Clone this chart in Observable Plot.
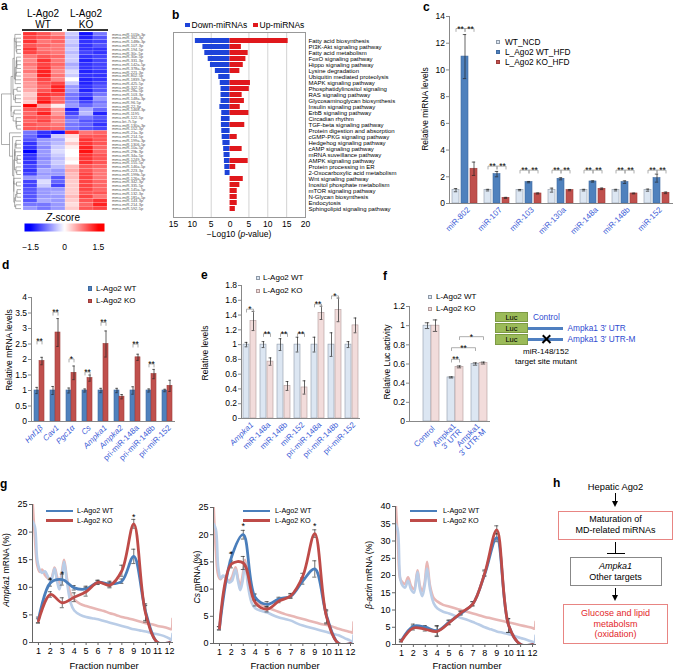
<!DOCTYPE html>
<html>
<head>
<meta charset="utf-8">
<script src="https://cdn.jsdelivr.net/npm/d3@7"></script>
<script src="https://cdn.jsdelivr.net/npm/@observablehq/plot@0.6"></script>
<style>
html,body{margin:0;padding:0;background:#fff;}
#fig{position:relative;width:673px;height:670px;overflow:hidden;background:#fff;font-family:"Liberation Sans",Arial,Helvetica,sans-serif;color:#000;}
#fig svg{display:block;}
</style>
</head>
<body>
<div id="fig"></div>
<script>
// ================= DATA =================
// a: heatmap
const heatCols = ["WT1","WT2","WT3","KO1","KO2","KO3"];
const heatRows = ["mmu-miR-101b-3p","mmu-miR-362-3p","mmu-miR-148b-3p","mmu-miR-107-3p","mmu-miR-194-5p","mmu-miR-30c-5p","mmu-miR-30e-5p","mmu-miR-331-3p","mmu-miR-142a-5p","mmu-miR-378a-3p","mmu-miR-221-3p","mmu-miR-802-5p","mmu-miR-1839-5p","mmu-miR-425-5p","mmu-miR-322-5p","mmu-miR-28a-5p","mmu-miR-103-3p","mmu-miR-148a-3p","mmu-miR-96-5p","mmu-miR-22-3p","mmu-miR-1468-3p","mmu-miR-1195","mmu-miR-122-5p","mmu-let-7i-5p","mmu-miR-130a-3p","mmu-miR-152-3p",
"mmu-miR-21a-3p","mmu-miR-214-5p","mmu-miR-199a-3p","mmu-miR-1306-5p","mmu-miR-10a-5p","mmu-miR-29b-3p","mmu-miR-34a-5p","mmu-miR-1249-3p","mmu-miR-155-5p","mmu-miR-146a-5p","mmu-miR-223-3p","mmu-miR-199b-5p","mmu-miR-126a-3p","mmu-miR-342-3p","mmu-miR-335-5p","mmu-miR-145a-5p","mmu-miR-132-3p","mmu-miR-181a-5p","mmu-miR-143-3p","mmu-miR-214-3p","mmu-miR-592-5p"];
const zTop = [
[1.2,1.0,0.7,-0.3,-1.4,-0.8],[1.1,1.0,0.9,-0.4,-1.3,-1.0],[1.2,0.8,0.9,-0.3,-1.2,-1.1],[1.0,0.9,0.8,-0.4,-1.2,-1.0],
[1.2,0.8,0.8,-0.3,-1.2,-1.2],[1.1,0.9,0.8,-0.4,-1.1,-1.2],[0.8,1.0,0.9,-0.3,-1.2,-1.1],[0.7,1.2,0.8,-0.3,-1.3,-1.1],
[0.8,1.1,0.9,-0.5,-1.2,-1.1],[0.7,1.2,0.8,-0.4,-1.2,-1.1],[0.8,1.3,0.7,-0.2,-1.3,-1.2],[0.6,1.3,0.8,-0.3,-1.2,-1.2],
[0.7,1.1,0.7,0.0,-1.3,-1.2],[0.6,1.0,1.1,-0.3,-1.3,-1.1],[0.6,0.9,1.3,-0.6,-1.2,-1.0],[0.5,1.0,1.3,-0.6,-1.3,-1.0],
[0.3,1.2,1.1,-0.8,-1.1,-0.8],[0.4,1.2,0.9,-0.8,-1.3,-0.6],[0.3,1.4,0.9,-0.7,-1.1,-0.8],[1.5,0.6,0.1,-0.6,-0.9,-0.7],
[1.0,1.1,0.6,-1.3,-0.5,-0.9],[0.9,1.3,0.6,-1.1,-0.4,-1.3],[1.0,1.0,0.8,-0.9,-0.8,-1.0],[0.9,1.1,0.7,-0.7,-1.0,-1.1],
[1.0,0.9,0.8,-0.8,-0.9,-1.2],[1.0,1.0,0.9,-0.8,-1.0,-1.1]];
const zBottom = [
[-0.8,-1.2,-1.4,1.2,0.8,0.9],[-0.9,-1.3,-0.3,0.2,1.0,1.0],[-1.0,-0.6,-0.5,0.1,1.2,1.0],[-1.2,-0.6,-0.4,0.3,1.2,1.0],
[-1.2,-0.7,-0.3,0.1,1.3,0.9],[-1.5,-0.6,-0.2,0.0,1.4,0.9],[-1.2,-0.6,-0.3,0.0,1.2,1.0],[-1.2,-0.7,-0.4,0.1,1.2,1.0],
[-1.2,-0.6,-0.3,0.0,1.2,1.0],[-1.1,-0.7,-0.4,0.4,1.0,0.9],[-1.2,-0.5,-0.6,0.5,1.0,0.8],[-1.1,-0.6,-0.6,0.4,1.1,0.8],
[-0.6,-0.5,-1.0,0.4,1.1,0.8],[-1.1,-0.2,-0.9,0.3,1.1,0.9],[-1.1,-0.3,-1.1,0.3,1.1,0.9],[-1.0,-0.6,-0.6,0.3,1.1,0.9],
[-1.0,-0.6,-0.5,0.3,1.0,1.0],[-1.0,-0.6,-0.6,0.4,1.1,0.8],[-1.0,-0.5,-0.6,0.3,1.0,1.2],[-0.8,-0.8,-0.6,0.2,0.9,1.3],
[-0.6,-0.8,-0.6,0.3,1.0,1.1]];

// b: pathways
const pathways = ["Fatty acid biosynthesis","PI3K-Akt signaling pathway","Fatty acid metabolism","FoxO signaling pathway","Hippo signaling pathway","Lysine degradation","Ubiquitin mediated proteolysis","MAPK signaling pathway","Phosphatidylinositol signaling","RAS signaling pathway","Glycosaminoglycan biosynthesis","Insulin signaling pathway","ErbB signaling pathway","Circadian rhythm","TGF-beta signaling pathway","Protein digestion and absorption","cGMP-PKG signaling pathway","Hedgehog signaling pathway","cAMP signaling pathway","mRNA suveillance pathway","AMPK signaling pathway","Protein processing in ER","2-Oxocarboxylic acid metabolism","Wnt signaling pathway","Inositol phosphate metabolism","mTOR signaling pathway","N-Glycan biosynthesis","Endocytosis","Sphingolipid signaling pathway"];
const downP = [9.2,7.2,6.7,5.8,5.2,3.9,3.0,2.6,2.4,2.4,2.4,2.7,2.2,2.3,2.3,2.2,2.1,1.9,1.7,1.6,1.5,1.4,1.3,0,0,0,0,0,0];
const upP   = [15.4,3.0,4.8,4.2,3.5,2.6,0,5.4,5.1,3.2,3.8,2.7,5.0,0,3.9,0,1.9,0,3.2,0,4.8,1.5,0,3.5,2.6,1.9,1.9,1.9,1.4];

// c
const cCats = ["miR-802","miR-107","miR-103","miR-130a","miR-148a","miR-148b","miR-152"];
const cSeries = ["WT_NCD","L_Ago2 WT_HFD","L_Ago2 KO_HFD"];
const cNCD = [1.0,1.0,1.0,1.0,1.0,1.0,1.0];
const cNCDerr = [0.12,0.06,0.05,0.15,0.06,0.06,0.08];
const cWT = [11.0,2.2,1.6,1.85,1.65,1.6,1.9];
const cWTerr = [1.65,0.2,0.05,0.08,0.05,0.1,0.3];
const cKO = [2.6,0.42,0.75,1.0,1.1,0.75,0.8];
const cKOerr = [0.5,0.04,0.04,0.05,0.06,0.03,0.06];
const cBrH = [13.1,2.8,2.5,2.5,2.5,2.5,2.5];

// d
const dCats = ["Hnf1β","Cav1","Pgc1α","Cs","Ampka1","Ampka2","pri-miR-148a","pri-miR-148b","pri-miR-152"];
const dWT = [1,1,1,1,1,1,1,1,1];
const dWTerr = [0.1,0.13,0.08,0.05,0.07,0.07,0.12,0.05,0.04];
const dKO = [1.95,2.87,1.57,1.4,2.5,0.8,2.07,1.53,1.15];
const dKOerr = [0.12,0.45,0.22,0.1,0.42,0.07,0.1,0.15,0.18];
const dBrH = [2.6,3.53,2.02,1.6,3.2,null,2.5,1.86,null];
const dBrLabel = ["**","**","*","**","**","","**","**",""];

// e
const eCats = ["Ampka1","miR-148a","miR-148b","miR-152","pri-miR-148a","pri-miR-148b","pri-miR-152"];
const eWT = [1,1,1,1,1,1,1];
const eWTerr = [0.03,0.04,0.08,0.1,0.1,0.16,0.04];
const eKO = [1.32,0.77,0.44,0.42,1.43,1.47,1.26];
const eKOerr = [0.13,0.05,0.06,0.09,0.09,0.16,0.1];
const eBrH = [1.48,1.15,1.15,1.15,1.55,1.66,null];
const eBrLabel = ["*","**","**","**","**","*",""];

// f
const fGroups = ["C","U","M"];
const fLabels = ["Control","Ampka1\n3′ UTR","Ampka1\n3′ UTR-M"];
const fWT = [1.0,0.46,0.6];
const fWTerr = [0.03,0.006,0.012];
const fKO = [1.0,0.57,0.61];
const fKOerr = [0.06,0.01,0.01];
const fBrackets = [{a:"U-WT",b:"U-KO",h:0.65,label:"**"},{a:"U-WT",b:"M-WT",h:0.77,label:"**"},{a:"U-KO",b:"M-KO",h:0.885,label:"*"}];

// g
const gFractions = [1,2,3,4,5,6,7,8,9,10,11,12];
const g1WT = [4.1,10.8,11.4,9.9,9.7,10.9,10.6,11.1,15.6,5.5,0,0];
const g1WTerr = [0.5,0.6,1.0,0.4,0.5,0.3,0.5,0.4,1.3,1.5,0,0];
const g1KO = [3.9,8.7,7.2,8.2,9.2,10.9,10.4,13.0,21.5,5.2,0,0];
const g1KOerr = [0.4,0.5,0.9,0.8,0.8,0.4,0.5,1.0,0.8,1.5,0,0];
const g2WT = [2.8,15.8,20.0,8.5,7.2,8.2,8.7,11.5,13.7,5.0,0,0];
const g2WTerr = [0.3,0.8,0.8,0.6,0.5,0.3,0.4,0.6,1.5,1.2,0,0];
const g2KO = [2.8,14.6,14.8,7.5,6.3,7.8,8.8,12.4,20.2,4.8,0,0];
const g2KOerr = [0.3,0.7,1.2,0.6,0.5,0.3,0.4,0.5,0.7,1.2,0,0];
const g3WT = [1.2,5.3,5.0,4.0,6.5,9.0,11.8,20.5,31.0,5.5,0,0];
const g3WTerr = [0.3,0.6,0.5,1.5,0.6,0.5,0.6,0.8,1.2,2.0,0,0];
const g3KO = [1.0,4.8,4.4,3.8,6.3,9.2,11.8,20.8,33.2,5.5,0,0];
const g3KOerr = [0.3,0.6,0.5,1.5,0.6,0.5,0.6,0.8,1.2,2.0,0,0];
const g1Stars = [{x:2,y:11.8},{x:3,y:12.9},{x:9,y:23.2}];
const g2Stars = [{x:2,y:16.8},{x:3,y:22.0},{x:9,y:22.0}];
// polysome profile traces (background)
const bgX    = [0.5,0.7,0.9,1.1,1.3,1.55,1.8,2.05,2.35,2.55,2.75,2.95,3.15,3.4,3.7,4,4.5,5,5.5,6,6.5,7,7.5,8,8.5,9,9.5,10,10.5,11,11.5,12,12.15,12.25];
const g1BgKO = [26,19,14,12.8,13.2,12.2,11.6,11.5,13.6,12.0,10.8,12.5,15.0,11.5,8.8,7.8,7.0,6.6,6.3,6.0,5.7,5.3,5.0,4.6,4.4,4.1,3.8,3.5,3.3,3.0,2.8,2.5,2.4,4.3];
const g1BgWT = [22,21,15,13.2,12.6,12.9,11.9,11.0,13.4,11.2,9.6,11.5,14.6,10.8,7.2,5.8,5.0,4.6,4.4,4.2,3.9,3.6,3.3,3.0,2.7,2.4,2.2,2.0,1.7,1.5,1.2,0.7,0.4,1.6];
const g2BgKO = [26,17,12.5,11.8,12.4,12.0,11.5,12.2,14.0,12.0,10.6,12.6,15.4,11.5,9.0,8.0,7.2,6.6,6.2,5.8,5.4,5.1,4.8,4.5,4.2,3.9,3.6,3.4,3.1,2.7,2.4,2.1,2.0,3.9];
const g2BgWT = [22,21,14,12.0,12.5,12.0,11.2,11.5,13.6,11.5,9.8,11.5,14.8,10.5,7.5,6.5,6.0,5.7,5.2,4.8,4.5,4.2,3.7,3.3,3.0,2.7,2.4,2.1,1.8,1.5,1.0,0.5,0.3,1.5];
const g3BgKO = [42,30,19,18,17.5,19.5,17,16,21.5,17,15.5,18,24,17,13.5,12.5,11.5,11,10.5,10,9.5,9,8.5,8,7.6,7.2,6.8,6.4,6.0,5.6,5.2,4.8,4.6,6.6];
const g3BgWT = [35,33,19,17,16.5,18.5,16,15,21,16,14,17,22,16,12,10.5,9.5,9.0,8.3,7.7,7.2,6.5,5.8,5.0,4.4,3.8,3.4,3.0,2.5,1.9,1.4,0.8,0.6,2.6];

// ================= HELPERS =================
const FONT = '"Liberation Sans", Arial, Helvetica, sans-serif';
const fig = document.getElementById("fig");
const st = (fs) => ({fontFamily: FONT, fontSize: fs + "px", color: "#000", background: "transparent", overflow: "visible", maxWidth: "none"});
function addDiv(css, inner = "") { const d = document.createElement("div"); d.style.cssText = "position:absolute;" + css; d.innerHTML = inner; fig.appendChild(d); return d; }
function put(svg, x, y) { const d = addDiv(`left:${x}px;top:${y}px;`); d.appendChild(svg); return d; }
function txt(s, x, yc, size, o = {}) {
  const {anchor = "start", color = "#000", weight = "normal", italic = false} = o;
  const tx = anchor === "middle" ? "translateX(-50%)" : anchor === "end" ? "translateX(-100%)" : "none";
  return addDiv(`left:${x}px;top:${yc - size * 0.5}px;font-size:${size}px;line-height:1;white-space:nowrap;color:${color};font-weight:${weight};font-style:${italic ? "italic" : "normal"};transform:${tx};`, s);
}
function vtxt(s, cx, cy, size) { return addDiv(`left:${cx}px;top:${cy}px;font-size:${size}px;line-height:1;white-space:nowrap;transform:translate(-50%,-50%) rotate(-90deg);`, s); }
function letter(ch, x, base) { return addDiv(`left:${x}px;top:${base - 12 * 0.85}px;font-size:12px;line-height:1;font-weight:bold;`, ch); }
function sq(x, yc, s, fill, stroke) { return addDiv(`left:${x}px;top:${yc - s / 2}px;width:${s}px;height:${s}px;background:${fill};box-sizing:border-box;border:0.7px solid ${stroke};`); }
function hline(x1, x2, y, w, color) { return addDiv(`left:${x1}px;top:${y - w / 2}px;width:${x2 - x1}px;height:${w}px;background:${color};`); }
function vline(x, y1, y2, w, color) { return addDiv(`left:${x - w / 2}px;top:${y1}px;width:${w}px;height:${y2 - y1}px;background:${color};`); }
function arrowDown(x, y1, y2) { vline(x, y1, y2 - 5, 1.3, "#000"); addDiv(`left:${x - 3.5}px;top:${y2 - 6}px;width:0;height:0;border-left:3.5px solid transparent;border-right:3.5px solid transparent;border-top:6px solid #000;`); }
function box(x, y, w, h, color) { return addDiv(`left:${x}px;top:${y}px;width:${w}px;height:${h}px;box-sizing:border-box;border:1px solid ${color};`); }

const BLUE_LBL = "#3a5bd6";

// ================= PANEL a =================
const zAll = zTop.concat(zBottom);
const heatData = [];
zAll.forEach((r, i) => r.forEach((z, j) => heatData.push({row: heatRows[i], col: heatCols[j], z})));
const colorCfg = {type: "linear", domain: [-1.5, 0, 1.5], range: ["#0000ff", "#ffffff", "#ff0000"], interpolate: "rgb", clamp: true};

// order-preserving agglomerative clustering for the dendrogram
function dist(a, b) { let s = 0; for (let k = 0; k < a.length; k++) { const d = a[k] - b[k]; s += d * d; } return Math.sqrt(s); }
let clusters = zAll.map((v, i) => ({mean: v, n: 1, h: 0, y: i}));
const dSegs = [];
while (clusters.length > 1) {
  let bi = 0, bd = Infinity;
  for (let i = 0; i < clusters.length - 1; i++) { const d = dist(clusters[i].mean, clusters[i + 1].mean); if (d < bd) { bd = d; bi = i; } }
  const a = clusters[bi], b = clusters[bi + 1];
  const h = Math.max(bd, a.h, b.h);
  dSegs.push({x1: a.h, y1: a.y, x2: h, y2: a.y}, {x1: b.h, y1: b.y, x2: h, y2: b.y}, {x1: h, y1: a.y, x2: h, y2: b.y});
  clusters.splice(bi, 2, {mean: a.mean.map((x, k) => (x * a.n + b.mean[k] * b.n) / (a.n + b.n)), n: a.n + b.n, h, y: (a.y + b.y) / 2});
}
const rootH = clusters[0].h;

put(Plot.plot({
  width: 150, height: 178, marginLeft: 0, marginRight: 62, marginTop: 0, marginBottom: 0,
  x: {domain: heatCols, padding: 0, axis: null},
  y: {domain: heatRows, padding: 0},
  color: colorCfg, style: st(4),
  marks: [
    Plot.cell(heatData, {x: "col", y: "row", fill: "z", stroke: "#fff", strokeWidth: 0.25, strokeOpacity: 0.5, inset: 0}),
    Plot.axisY({anchor: "right", tickSize: 0, tickPadding: 2.5, fontSize: 4, fill: "#555", label: null})
  ]
}), 21, 32);

put(Plot.plot({
  width: 21, height: 178, marginLeft: 0, marginRight: 0, marginTop: 0, marginBottom: 0,
  x: {type: "sqrt", domain: [rootH, 0], range: [1, 20.5], axis: null},
  y: {domain: [-0.5, 46.5], range: [0, 178], axis: null},
  style: st(4),
  marks: [Plot.link(dSegs, {x1: "x1", y1: "y1", x2: "x2", y2: "y2", stroke: "#777", strokeWidth: 0.6})]
}), 0, 32);

put(Plot.plot({
  width: 80, height: 28, marginLeft: 0, marginRight: 0, marginTop: 0, marginBottom: 20,
  x: {domain: [-1.77, 1.77]}, y: {domain: [0, 1], axis: null},
  color: colorCfg, style: st(8.5),
  marks: [
    Plot.raster({fill: (x, y) => x, x1: -1.77, x2: 1.77, y1: 0, y2: 1}),
    Plot.axisX({ticks: [-1.5, 0, 1.5], tickSize: 0, tickPadding: 12, fontSize: 8.5, tickFormat: d => d < 0 ? "−" + (-d) : String(d), label: null})
  ]
}), 24, 223);

txt("L-Ago2", 43, 14, 10, {anchor: "middle"});
txt("WT", 43, 24.5, 10, {anchor: "middle"});
txt("L-Ago2", 86, 14, 10, {anchor: "middle"});
txt("KO", 86, 24.5, 10, {anchor: "middle"});
hline(22, 62, 30, 1.5, "#333");
hline(67, 108, 30, 1.5, "#333");
txt("<i>Z</i>-score", 63, 217.5, 10, {anchor: "middle"});

// ================= PANEL b =================
const bBlue = "#1d43d9", bRed = "#e0181c";
put(Plot.plot({
  width: 202, height: 213, marginLeft: 10, marginRight: 60, marginTop: 0, marginBottom: 28,
  x: {domain: [-15, 20]},
  y: {domain: pathways, padding: 0.15},
  style: st(8.5),
  marks: [
    Plot.gridX({ticks: [-15, -10, -5, 5, 10, 15], stroke: "#c8c8c8", strokeOpacity: 1, strokeWidth: 0.8}),
    Plot.barX(pathways.map((p, i) => ({p, v: -downP[i]})), {x: "v", y: "p", fill: bBlue}),
    Plot.barX(pathways.map((p, i) => ({p, v: upP[i]})), {x: "v", y: "p", fill: bRed}),
    Plot.frame({stroke: "#999"}),
    Plot.axisX({ticks: [-15, -10, -5, 0, 5, 10, 15, 20], tickFormat: d => String(Math.abs(d)), tickSize: 0, tickPadding: 3, fontSize: 8.5, label: null}),
    Plot.axisY({anchor: "right", tickSize: 0, tickPadding: 3, fontSize: 6, label: null})
  ]
}), 163, 32);
sq(185, 25, 4.5, bBlue, bBlue); txt("Down-miRNAs", 191.5, 25, 8.5);
sq(253, 25, 4.5, bRed, bRed); txt("Up-miRNAs", 259.5, 25, 8.5);
txt("−Log10 (<i>p</i>-value)", 239, 234.5, 8.5, {anchor: "middle"});

// ================= PANEL c =================
const cFill = ["#dce6f2", "#4f81bd", "#c0504d"], cStroke = ["#8f9aa8", "#3e6aa0", "#9e3c3a"];
const cRows = cCats.flatMap((cat, i) => [
  {cat, s: cSeries[0], v: cNCD[i], e: cNCDerr[i]},
  {cat, s: cSeries[1], v: cWT[i], e: cWTerr[i]},
  {cat, s: cSeries[2], v: cKO[i], e: cKOerr[i]}]);
const cDrop = 0.22;
const cBrPts = cCats.flatMap((cat, i) => [[0, 1], [1, 2]].flatMap(([p, q], k) => [
  {id: i * 2 + k, cat, x: cSeries[p], y: cBrH[i] - cDrop}, {id: i * 2 + k, cat, x: cSeries[p], y: cBrH[i]},
  {id: i * 2 + k, cat, x: cSeries[q], y: cBrH[i]}, {id: i * 2 + k, cat, x: cSeries[q], y: cBrH[i] - cDrop}]));
const cBr = cCats.map((cat, i) => ({cat, h: cBrH[i]}));
put(Plot.plot({
  width: 255, height: 258, marginLeft: 30, marginRight: 0, marginTop: 16, marginBottom: 55,
  fx: {domain: cCats, padding: 0, axis: null},
  x: {domain: cSeries, paddingInner: 0.17, paddingOuter: 0.19, axis: null},
  y: {domain: [0, 14]},
  style: st(8.5),
  marks: [
    ...cSeries.map((s, j) => Plot.barY(cRows.filter(r => r.s === s), {fx: "cat", x: "s", y: "v", fill: cFill[j], stroke: cStroke[j], strokeWidth: 0.6})),
    Plot.ruleX(cRows, {fx: "cat", x: "s", y1: d => d.v - d.e, y2: d => d.v + d.e, stroke: "#222", strokeWidth: 0.7}),
    Plot.tickY(cRows, {fx: "cat", x: "s", y: d => d.v + d.e, stroke: "#222", strokeWidth: 0.7, inset: 1.8}),
    Plot.tickY(cRows, {fx: "cat", x: "s", y: d => d.v - d.e, stroke: "#222", strokeWidth: 0.7, inset: 1.8}),
    Plot.ruleY([0], {stroke: "#888"}),
    Plot.line(cBrPts, {fx: "cat", x: "x", y: "y", z: "id", stroke: "#999", strokeWidth: 0.8}),
    Plot.text(cBr, {fx: "cat", y: "h", text: () => "**", dx: -5, dy: 3, lineAnchor: "bottom", fontSize: 8.5}),
    Plot.text(cBr, {fx: "cat", y: "h", text: () => "**", dx: 5, dy: 3, lineAnchor: "bottom", fontSize: 8.5}),
    Plot.text(cCats.map(c => ({c})), {fx: "c", text: "c", frameAnchor: "bottom", rotate: -45, textAnchor: "end", lineAnchor: "middle", dx: 3, dy: 5, fill: BLUE_LBL, fontSize: 8}),
    Plot.frame({anchor: "left", facetAnchor: "left", stroke: "#888"}),
    Plot.axisY({ticks: [0, 2, 4, 6, 8, 10, 12, 14], tickSize: 3, tickPadding: 1.5, fontSize: 8.5, stroke: "#888", label: null})
  ]
}), 418, 0);
vtxt("Relative miRNA levels", 425, 109, 8.5);
cSeries.forEach((s, j) => { sq(495.7, 42.3 + 10 * j, 4.4, cFill[j], cStroke[j]); txt(s, 505, 42.3 + 10 * j, 8.3); });

// ================= PANEL d / e (two-series grouped bars) =================
function pairBars({cats, wt, wtE, ko, koE, brH, brLabel, yDomain, yTicks, width, height, mL, mT, mB, mR, padOuter, padInner, fills, strokes, drop, cap, italicTest}) {
  const ser = ["WT", "KO"];
  const rows = cats.flatMap((cat, i) => [{cat, s: "WT", v: wt[i], e: wtE[i]}, {cat, s: "KO", v: ko[i], e: koE[i]}]);
  const br = cats.map((cat, i) => ({cat, h: brH[i], label: brLabel[i]})).filter(d => d.h != null);
  const brPts = br.flatMap((b, i) => [
    {id: i, cat: b.cat, x: "WT", y: b.h - drop}, {id: i, cat: b.cat, x: "WT", y: b.h},
    {id: i, cat: b.cat, x: "KO", y: b.h}, {id: i, cat: b.cat, x: "KO", y: b.h - drop}]);
  const lab = cats.map(c => ({c}));
  return Plot.plot({
    width, height, marginLeft: mL, marginRight: mR, marginTop: mT, marginBottom: mB,
    fx: {domain: cats, padding: 0, axis: null},
    x: {domain: ser, paddingInner: padInner, paddingOuter: padOuter, axis: null},
    y: {domain: yDomain},
    style: st(8.5),
    marks: [
      ...ser.map((s, j) => Plot.barY(rows.filter(r => r.s === s), {fx: "cat", x: "s", y: "v", fill: fills[j], stroke: strokes[j], strokeWidth: 0.6})),
      Plot.ruleX(rows, {fx: "cat", x: "s", y1: d => d.v - d.e, y2: d => d.v + d.e, stroke: "#222", strokeWidth: 0.7}),
      Plot.tickY(rows, {fx: "cat", x: "s", y: d => d.v + d.e, stroke: "#222", strokeWidth: 0.7, inset: cap}),
      Plot.tickY(rows, {fx: "cat", x: "s", y: d => d.v - d.e, stroke: "#222", strokeWidth: 0.7, inset: cap}),
      Plot.ruleY([0], {stroke: "#888"}),
      Plot.line(brPts, {fx: "cat", x: "x", y: "y", z: "id", stroke: "#999", strokeWidth: 0.8}),
      Plot.text(br, {fx: "cat", y: "h", text: "label", dy: 3, lineAnchor: "bottom", fontSize: 8.5}),
      Plot.text(lab.filter(d => italicTest(d.c)), {fx: "c", text: "c", frameAnchor: "bottom", rotate: -45, textAnchor: "end", lineAnchor: "middle", dx: 2, dy: 5, fill: BLUE_LBL, fontSize: 8, fontStyle: "italic"}),
      Plot.text(lab.filter(d => !italicTest(d.c)), {fx: "c", text: "c", frameAnchor: "bottom", rotate: -45, textAnchor: "end", lineAnchor: "middle", dx: 2, dy: 5, fill: BLUE_LBL, fontSize: 8}),
      Plot.frame({anchor: "left", facetAnchor: "left", stroke: "#888"}),
      Plot.axisY({ticks: yTicks, tickFormat: d => String(d), tickSize: 3, tickPadding: 1.5, fontSize: 8.5, stroke: "#888", label: null})
    ]
  });
}
const isGene = c => !c.startsWith("pri") && !c.startsWith("miR");

put(pairBars({cats: dCats, wt: dWT, wtE: dWTerr, ko: dKO, koE: dKOerr, brH: dBrH, brLabel: dBrLabel,
  yDomain: [0, 4], yTicks: [0, 0.5, 1, 1.5, 2, 2.5, 3, 3.5, 4], width: 180, height: 182, mL: 28, mT: 12, mB: 46, mR: 3,
  padOuter: 0.38, padInner: 0, fills: ["#4f81bd", "#c0504d"], strokes: ["#3e6aa0", "#9e3c3a"], drop: 0.1, cap: 1.3, italicTest: isGene}), 0, 285);
vtxt("Relative mRNA levels", 9, 350, 8.5);
sq(88, 288.5, 4.2, "#4f81bd", "#3e6aa0"); txt("L-Ago2 WT", 96, 288.5, 8);
sq(88, 301.3, 4.2, "#c0504d", "#9e3c3a"); txt("L-Ago2 KO", 96, 301.3, 8);

put(pairBars({cats: eCats, wt: eWT, wtE: eWTerr, ko: eKO, koE: eKOerr, brH: eBrH, brLabel: eBrLabel,
  yDomain: [0, 1.8], yTicks: [0, 0.2, 0.4, 0.6, 0.8, 1, 1.2, 1.4, 1.6, 1.8], width: 153, height: 187, mL: 26, mT: 8, mB: 46, mR: 3,
  padOuter: 0.25, padInner: 0.08, fills: ["#dce6f2", "#f2dcdb"], strokes: ["#8f9aa8", "#b09a9a"], drop: 0.04, cap: 1.6, italicTest: c => c === "Ampka1"}), 212, 277);
vtxt("Relative levels", 205, 353, 8.5);
sq(256, 278.3, 4.2, "#dce6f2", "#8f9aa8"); txt("L-Ago2 WT", 263, 278.3, 8);
sq(256, 291, 4.2, "#f2dcdb", "#b09a9a"); txt("L-Ago2 KO", 263, 291, 8);

// ================= PANEL f =================
const fDomain = ["C-WT", "C-KO", "s1", "U-WT", "U-KO", "s2", "M-WT", "M-KO"];
const fRowsWT = fGroups.map((g, i) => ({x: g + "-WT", v: fWT[i], e: fWTerr[i]}));
const fRowsKO = fGroups.map((g, i) => ({x: g + "-KO", v: fKO[i], e: fKOerr[i]}));
const fRows = fRowsWT.concat(fRowsKO);
const fPlotW = 81, fPadOuter = 1.06, fStep = fPlotW / (fDomain.length + 2 * fPadOuter);
const fDrop = 0.03;
const fBrPts = fBrackets.flatMap((b, i) => [
  {id: i, x: b.a, y: b.h - fDrop}, {id: i, x: b.a, y: b.h}, {id: i, x: b.b, y: b.h}, {id: i, x: b.b, y: b.h - fDrop}]);
put(Plot.plot({
  width: 24 + fPlotW + 2, height: 165, marginLeft: 24, marginRight: 2, marginTop: 10, marginBottom: 40,
  x: {domain: fDomain, paddingInner: 0, paddingOuter: fPadOuter, align: 0.82, axis: null},
  y: {domain: [0, 1.2]},
  style: st(8.5),
  marks: [
    Plot.barY(fRowsWT, {x: "x", y: "v", fill: "#dce6f2", stroke: "#8f9aa8", strokeWidth: 0.6}),
    Plot.barY(fRowsKO, {x: "x", y: "v", fill: "#f2dcdb", stroke: "#b09a9a", strokeWidth: 0.6}),
    Plot.ruleX(fRows, {x: "x", y1: d => d.v - d.e, y2: d => d.v + d.e, stroke: "#222", strokeWidth: 0.7}),
    Plot.tickY(fRows, {x: "x", y: d => d.v + d.e, stroke: "#222", strokeWidth: 0.7, inset: 1.8}),
    Plot.tickY(fRows, {x: "x", y: d => d.v - d.e, stroke: "#222", strokeWidth: 0.7, inset: 1.8}),
    Plot.ruleY([0], {stroke: "#888"}),
    Plot.line(fBrPts, {x: "x", y: "y", z: "id", stroke: "#999", strokeWidth: 0.8}),
    ...fBrackets.map(b => Plot.text([b], {x: "a", y: "h", text: "label", dx: (fDomain.indexOf(b.b) - fDomain.indexOf(b.a)) * fStep / 2, dy: 3, lineAnchor: "bottom", fontSize: 8.5})),
    Plot.text(fGroups.map((g, i) => ({x: g + "-WT", t: fLabels[i]})), {x: "x", text: "t", frameAnchor: "bottom", rotate: -45, textAnchor: "end", lineAnchor: "middle", dx: fStep / 2 + 2, dy: 6, fill: BLUE_LBL, fontSize: 8}),
    Plot.frame({anchor: "left", stroke: "#888"}),
    Plot.axisY({ticks: [0, 0.2, 0.4, 0.6, 0.8, 1, 1.2], tickFormat: d => String(d), tickSize: 3, tickPadding: 1.5, fontSize: 8.5, stroke: "#888", label: null})
  ]
}), 385, 296);
vtxt("Relative Luc activity", 387, 362, 8.5);
sq(428, 297.3, 4.2, "#dce6f2", "#8f9aa8"); txt("L-Ago2 WT", 436, 297.3, 8);
sq(428, 309.3, 4.2, "#f2dcdb", "#b09a9a"); txt("L-Ago2 KO", 436, 309.3, 8);

// Luc constructs diagram
[311.5, 322.8, 334.1].forEach(y => addDiv(`left:495px;top:${y}px;width:33px;height:10.5px;box-sizing:border-box;background:#9bbb59;border:0.6px solid #7d9a44;font-size:7.5px;line-height:10px;text-align:center;`, "Luc"));
const LUC_BLUE = "#2f4bd0";
txt("Control", 533, 317.2, 8.3, {color: LUC_BLUE});
hline(528, 563, 328.3, 3, "#4f7fc0");
txt("Ampka1 3′ UTR", 567.5, 328.3, 8.3, {color: LUC_BLUE});
hline(528, 563, 339.5, 3, "#4f7fc0");
txt("Ampka1 3′ UTR-M", 567.5, 339.5, 8.3, {color: LUC_BLUE});
addDiv(`left:540.5px;top:338.3px;width:11px;height:2.4px;background:#000;transform:rotate(45deg);`);
addDiv(`left:540.5px;top:338.3px;width:11px;height:2.4px;background:#000;transform:rotate(-45deg);`);
txt("miR-148/152", 546, 352.3, 8, {anchor: "middle"});
txt("target site mutant", 546, 362.3, 8, {anchor: "middle"});

// ================= PANEL g =================
function gPlot({wt, wtE, ko, koE, bgKO, bgWT, yMax, yTicks, stars, plotH}) {
  const rWT = gFractions.map((f, i) => ({f, v: wt[i], e: wtE[i]}));
  const rKO = gFractions.map((f, i) => ({f, v: ko[i], e: koE[i]}));
  const errs = rWT.concat(rKO).filter(d => d.e > 0);
  return Plot.plot({
    width: 172, height: 6 + plotH + 24, marginLeft: 30, marginRight: 2, marginTop: 6, marginBottom: 24,
    x: {domain: [0.5, 12.25]}, y: {domain: [0, yMax]},
    style: st(9),
    marks: [
      Plot.line(bgX.map((x, i) => ({x, y: bgKO[i]})), {x: "x", y: "y", curve: "catmull-rom", stroke: "#e8b7b5", strokeWidth: 2.6, clip: true}),
      Plot.line(bgX.map((x, i) => ({x, y: bgWT[i]})), {x: "x", y: "y", curve: "catmull-rom", stroke: "#bacde7", strokeWidth: 2.6, clip: true}),
      Plot.ruleX(errs, {x: "f", y1: d => d.v - d.e, y2: d => d.v + d.e, stroke: "#333", strokeWidth: 0.7}),
      Plot.ruleY(errs, {x1: d => d.f - 0.17, x2: d => d.f + 0.17, y: d => d.v + d.e, stroke: "#333", strokeWidth: 0.7}),
      Plot.ruleY(errs, {x1: d => d.f - 0.17, x2: d => d.f + 0.17, y: d => d.v - d.e, stroke: "#333", strokeWidth: 0.7}),
      Plot.line(rWT, {x: "f", y: "v", curve: "catmull-rom", stroke: "#4a7ebb", strokeWidth: 2.8, clip: true}),
      Plot.line(rKO, {x: "f", y: "v", curve: "catmull-rom", stroke: "#be4b48", strokeWidth: 2.8, clip: true}),
      Plot.text(stars, {x: "x", y: "y", text: () => "*", fontSize: 9, dy: 2.5}),
      Plot.frame({anchor: "left", stroke: "#666"}),
      Plot.frame({anchor: "bottom", stroke: "#666"}),
      Plot.axisX({ticks: gFractions, tickSize: 3, tickPadding: 2, fontSize: 9, stroke: "#666", label: null}),
      Plot.axisY({ticks: yTicks, tickSize: 3, tickPadding: 2, fontSize: 9, stroke: "#666", label: null})
    ]
  });
}
put(gPlot({wt: g1WT, wtE: g1WTerr, ko: g1KO, koE: g1KOerr, bgKO: g1BgKO, bgWT: g1BgWT, yMax: 25, yTicks: [0, 5, 10, 15, 20, 25], stars: g1Stars, plotH: 138}), 2, 498);
put(gPlot({wt: g2WT, wtE: g2WTerr, ko: g2KO, koE: g2KOerr, bgKO: g2BgKO, bgWT: g2BgWT, yMax: 25, yTicks: [0, 5, 10, 15, 20, 25], stars: g2Stars, plotH: 136}), 183, 501);
put(gPlot({wt: g3WT, wtE: g3WTerr, ko: g3KO, koE: g3KOerr, bgKO: g3BgKO, bgWT: g3BgWT, yMax: 40, yTicks: [0, 5, 10, 15, 20, 25, 30, 35, 40], stars: [], plotH: 138}), 365, 500);
vtxt("<i>Ampka1</i> mRNA (%)", 6, 570, 8.5);
vtxt("<i>Cs</i> mRNA (%)", 197, 577, 8.5);
vtxt("<i>β-actin</i> mRNA (%)", 369, 575, 8.5);
txt("Fraction number", 104, 666, 9.5, {anchor: "middle"});
txt("Fraction number", 285, 666, 9.5, {anchor: "middle"});
txt("Fraction number", 467, 666, 9.5, {anchor: "middle"});
[[46, 77], [243, 275], [410, 443]].forEach(([x, tx]) => {
  hline(x, x + 27, 511, 2.8, "#4a7ebb"); txt("L-Ago2 WT", tx, 510.5, 7.2);
  hline(x, x + 27, 520.5, 2.8, "#be4b48"); txt("L-Ago2 KO", tx, 520.5, 7.2);
});

// ================= PANEL h =================
txt("Hepatic Ago2", 615.5, 487.3, 9.3, {anchor: "middle"});
arrowDown(615.5, 493, 507);
box(558.3, 510.7, 114.4, 29.3, "#e88583");
txt("Maturation of", 615.5, 519.5, 9, {anchor: "middle"});
txt("MD-related miRNAs", 615.5, 530.7, 9, {anchor: "middle"});
vline(615.5, 541.5, 553.5, 1.3, "#000");
hline(606.5, 625, 553.5, 1.3, "#000");
box(570, 556.7, 91.7, 29.3, "#888");
txt("<i>Ampka1</i>", 615.5, 566, 9, {anchor: "middle"});
txt("Other targets", 615.5, 577, 9, {anchor: "middle"});
arrowDown(615.5, 588.3, 601);
box(563.3, 604, 105, 40.3, "#e88583");
const H_RED = "#e3262b";
txt("Glucose and lipid", 615.5, 613, 9, {anchor: "middle", color: H_RED});
txt("metabolsm", 615.5, 624, 9, {anchor: "middle", color: H_RED});
txt("(oxidation)", 615.5, 634.5, 9, {anchor: "middle", color: H_RED});

// ================= panel letters =================
letter("a", 1, 10.5); letter("b", 172, 19); letter("c", 423, 11);
letter("d", 2, 269); letter("e", 201, 279); letter("f", 383, 280);
letter("g", 0, 488.5); letter("h", 553, 487);
</script>
</body>
</html>
